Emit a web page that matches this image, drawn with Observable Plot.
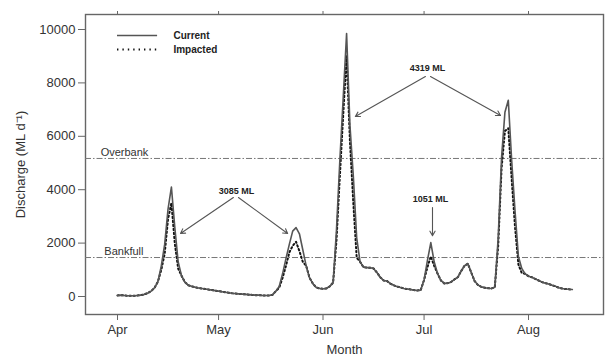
<!DOCTYPE html>
<html><head><meta charset="utf-8">
<script src="https://cdn.jsdelivr.net/npm/d3@7"></script>
<script src="https://cdn.jsdelivr.net/npm/@observablehq/plot@0.6"></script>
<style>
body{margin:0;background:#fff;}
#chart svg{display:block;}
</style></head><body><div id="chart"></div>
<script>
// Daily discharge (ML/d) starting 1 April
const startDate = "2010-04-01";
const current = [
  40,50,40,30,30,30,40,50,80,130,
  200,330,560,1150,1950,3270,4100,2600,1300,780,
  540,420,380,350,320,300,280,260,240,220,
  200,180,160,140,120,110,100,90,80,70,
  60,50,50,40,40,40,60,200,380,850,
  1420,1950,2450,2580,2350,1750,1150,700,480,340,
  300,290,300,380,520,2500,5100,7450,9850,6400,
  4500,2200,1300,1100,1080,1080,1050,900,720,600,
  580,480,420,370,340,300,280,260,240,225,
  240,620,1350,2020,1300,860,600,490,500,540,
  640,720,950,1150,1230,900,580,430,360,330,
  310,300,350,2200,5200,6900,7350,5100,3200,1500,
  1050,850,760,720,660,600,540,500,470,420,
  380,330,300,280,270,260
];
const impacted = [
  40,50,40,30,30,30,40,50,80,130,
  200,330,560,1000,1600,2900,3500,2000,1050,780,
  540,420,380,350,320,300,280,260,240,220,
  200,180,160,140,120,110,100,90,80,70,
  60,50,50,40,40,40,60,200,330,700,
  1150,1650,1900,2050,1700,1300,1150,700,480,340,
  300,290,300,380,520,2100,4500,6800,9000,5800,
  3500,1450,1300,1100,1080,1080,1050,900,720,600,
  580,480,420,370,340,300,280,260,240,225,
  240,620,1100,1500,1150,860,600,490,500,540,
  640,720,950,1150,1230,900,580,430,360,330,
  310,300,350,1900,4800,6200,6300,4400,2600,1200,
  880,850,760,720,660,600,540,500,470,420,
  380,330,300,280,270,260
];
const monthTicks = ["2010-04-01","2010-05-01","2010-06-01","2010-07-01","2010-08-01"];
const yTicks = [0, 2000, 4000, 6000, 8000, 10000];
const thresholdLabels = ["Overbank", "Bankfull"];
const thresholdValues = [5170, 1460];
const thresholdLabelDays = [-5, -3.9];
const annotationLabels = ["3085 ML", "4319 ML", "1051 ML"];
const annotationDays = [35.3, 92.0, 92.9];
const annotationValues = [3930, 8540, 3630];
// arrows: [startDay, startValue, endDay, endValue]
const arrowSegments = [
  [34.4, 3708, 18.7, 2360],
  [35.9, 3708, 50.5, 2360],
  [91.4, 8240, 70.6, 6740],
  [92.9, 8240, 113.7, 6780],
  [93.5, 3330, 93.5, 2280]
];
const seriesNames = ["Current", "Impacted"];
const legendValues = [9775, 9250];
const legendLineDays = [0, 11.9];
const legendTextDay = 16.6;

const t0 = Date.parse(startDate);
const dayDate = d => new Date(t0 + d * 864e5);
const table = current.map((v, i) => ({date: dayDate(i), current: v, impacted: impacted[i]}));
const thresholds = thresholdLabels.map((l, i) => ({label: l, value: thresholdValues[i], date: dayDate(thresholdLabelDays[i])}));
const annotations = annotationLabels.map((l, i) => ({label: l, date: dayDate(annotationDays[i]), value: annotationValues[i]}));
const arrows = arrowSegments.map(([a, b, c, d]) => ({x1: dayDate(a), y1: b, x2: dayDate(c), y2: d}));
const legend = seriesNames.map((n, i) => ({name: n, value: legendValues[i], xa: dayDate(legendLineDays[0]), xb: dayDate(legendLineDays[1]), xt: dayDate(legendTextDay)}));
const tickDates = monthTicks.map(s => new Date(Date.parse(s)));

const chart = Plot.plot({
  width: 606, height: 357,
  marginLeft: 85, marginRight: 3, marginTop: 14, marginBottom: 43,
  style: {fontFamily: "'Liberation Sans', Arial, sans-serif", fontSize: "13px", color: "#333", background: "#fff"},
  x: {type: "utc", domain: [dayDate(-9.5), dayDate(144.26)]},
  y: {domain: [-674, 10562]},
  marks: [
    Plot.frame({stroke: "#666", strokeWidth: 1.4}),
    Plot.axisX(tickDates, {anchor: "bottom", tickSize: 6, tickPadding: 4, tickFormat: d3.utcFormat("%b"),
      label: "Month", labelAnchor: "center", labelArrow: "none", labelOffset: 39, stroke: "#666"}),
    Plot.axisX(tickDates, {anchor: "top", tickSize: 4, tickFormat: () => "", label: null, stroke: "#666"}),
    Plot.axisY(yTicks, {anchor: "left", tickSize: 7, tickPadding: 3, tickFormat: d3.format("d"),
      label: "Discharge (ML d⁻¹)", labelAnchor: "center", labelArrow: "none", labelOffset: 70, stroke: "#666", fontSize: 13}),
    Plot.ruleY(thresholds, {y: "value", stroke: "#777", strokeWidth: 1, strokeDasharray: "6,2,1.5,2"}),
    Plot.text(thresholds, {x: "date", y: "value", text: "label", textAnchor: "start", dy: -6, fontSize: 11, fill: "#333"}),
    Plot.line(table, {x: "date", y: "impacted", stroke: "#111", strokeWidth: 2, strokeDasharray: "1.4,2.6"}),
    Plot.line(table, {x: "date", y: "current", stroke: "#555", strokeWidth: 1.6}),
    Plot.arrow(arrows, {x1: "x1", y1: "y1", x2: "x2", y2: "y2", stroke: "#555", strokeWidth: 1.1, headLength: 7}),
    Plot.text(annotations, {x: "date", y: "value", text: "label", fontSize: 9, fontWeight: "bold", fill: "#222"}),
    Plot.ruleY(legend.slice(0, 1), {y: "value", x1: "xa", x2: "xb", stroke: "#555", strokeWidth: 1.6}),
    Plot.ruleY(legend.slice(1), {y: "value", x1: "xa", x2: "xb", stroke: "#111", strokeWidth: 2, strokeDasharray: "1.4,4"}),
    Plot.text(legend, {x: "xt", y: "value", text: "name", textAnchor: "start", fontSize: 10, fontWeight: "bold", fill: "#222"})
  ]
});
document.getElementById("chart").appendChild(chart);
</script></body></html>
